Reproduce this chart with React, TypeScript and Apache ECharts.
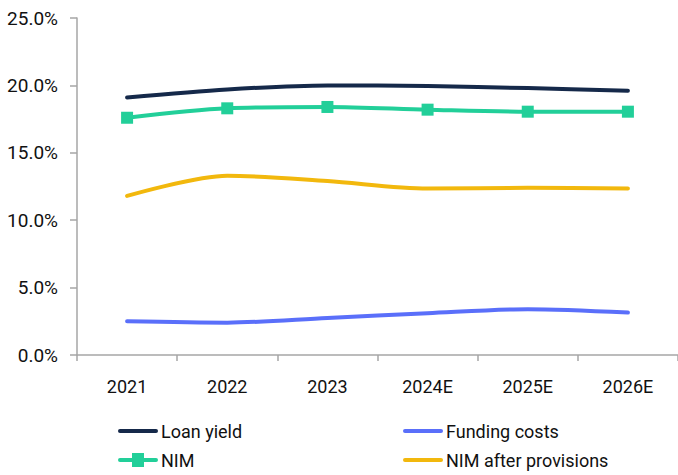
import React, { useEffect, useRef } from "react";
import * as echarts from "echarts";

const categories = ["2021", "2022", "2023", "2024E", "2025E", "2026E"];
const loanYield = [19.1, 19.7, 20.0, 19.95, 19.8, 19.6];
const nim = [17.6, 18.3, 18.4, 18.2, 18.05, 18.05];
const fundingCosts = [2.5, 2.4, 2.75, 3.1, 3.4, 3.15];
const nimAfterProvisions = [11.8, 13.3, 12.9, 12.35, 12.4, 12.35];
const yTicks = { min: 0, max: 25, interval: 5 };

const FONT = "Roboto";
const TEXT = "#111111";
const AXIS = "#a6a6a6";

const LINE_ICON = "path://M2,0 L38,0 A2,2 0 0 1 38,4 L2,4 A2,2 0 0 1 2,0 Z";
const NIM_ICON =
  "path://M14,0 L26,0 L26,5 L38,5 A2,2 0 0 1 38,9 L26,9 L26,14 L14,14 L14,9 L2,9 A2,2 0 0 1 2,5 L14,5 Z";

export default function App() {
  const ref = useRef<HTMLDivElement>(null);
  useEffect(() => {
    if (!ref.current) return;
    const chart = echarts.init(ref.current, null, { renderer: "svg" });
    const lineSeries = (name: string, data: number[], color: string, withSymbol = false) => ({
      name,
      type: "line",
      data,
      smooth: 0.3,
      symbol: withSymbol ? "rect" : "none",
      symbolSize: 12,
      showSymbol: withSymbol,
      itemStyle: { color },
      lineStyle: { color, width: 4, cap: "round", join: "round" },
      emphasis: { disabled: true },
    });
    const legendItem = (name: string, left: number, top: number, icon: string, h: number) => ({
      data: [{ name, icon }],
      orient: "horizontal",
      left,
      top,
      itemWidth: 40,
      itemHeight: h,
      padding: 0,
      textStyle: { color: TEXT, fontFamily: FONT, fontSize: 18, padding: [0, 0, 0, -2] },
      selectedMode: false,
    });
    chart.setOption({
      animation: false,
      grid: { left: 77, right: 0, top: 18, bottom: 120, containLabel: false },
      xAxis: {
        type: "category",
        data: categories,
        boundaryGap: true,
        axisLine: { show: true, lineStyle: { color: AXIS, width: 1.5 } },
        axisTick: { show: true, alignWithLabel: false, length: 6, lineStyle: { color: AXIS, width: 1.5 } },
        axisLabel: { color: TEXT, fontFamily: FONT, fontSize: 18, margin: 22 },
        splitLine: { show: false },
      },
      yAxis: {
        type: "value",
        min: yTicks.min,
        max: yTicks.max,
        interval: yTicks.interval,
        axisLine: { show: true, lineStyle: { color: AXIS, width: 1.5 } },
        axisTick: { show: true, length: 7, lineStyle: { color: AXIS, width: 1.5 } },
        axisLabel: {
          color: TEXT,
          fontFamily: FONT,
          fontSize: 19,
          margin: 19,
          formatter: (v: number) => v.toFixed(1) + "%",
        },
        splitLine: { show: false },
      },
      legend: [
        legendItem("Loan yield", 118, 422, LINE_ICON, 4),
        legendItem("NIM", 118, 451, NIM_ICON, 14),
        legendItem("Funding costs", 403, 422, LINE_ICON, 4),
        legendItem("NIM after provisions", 403, 451, LINE_ICON, 4),
      ],
      series: [
        lineSeries("Loan yield", loanYield, "#15294a"),
        lineSeries("NIM", nim, "#22cf99", true),
        lineSeries("Funding costs", fundingCosts, "#5a6ffa"),
        lineSeries("NIM after provisions", nimAfterProvisions, "#f2b80d"),
      ],
    });
    return () => chart.dispose();
  }, []);
  return <div ref={ref} style={{ width: 678, height: 475, position: "absolute", left: 0, top: 0 }} />;
}
